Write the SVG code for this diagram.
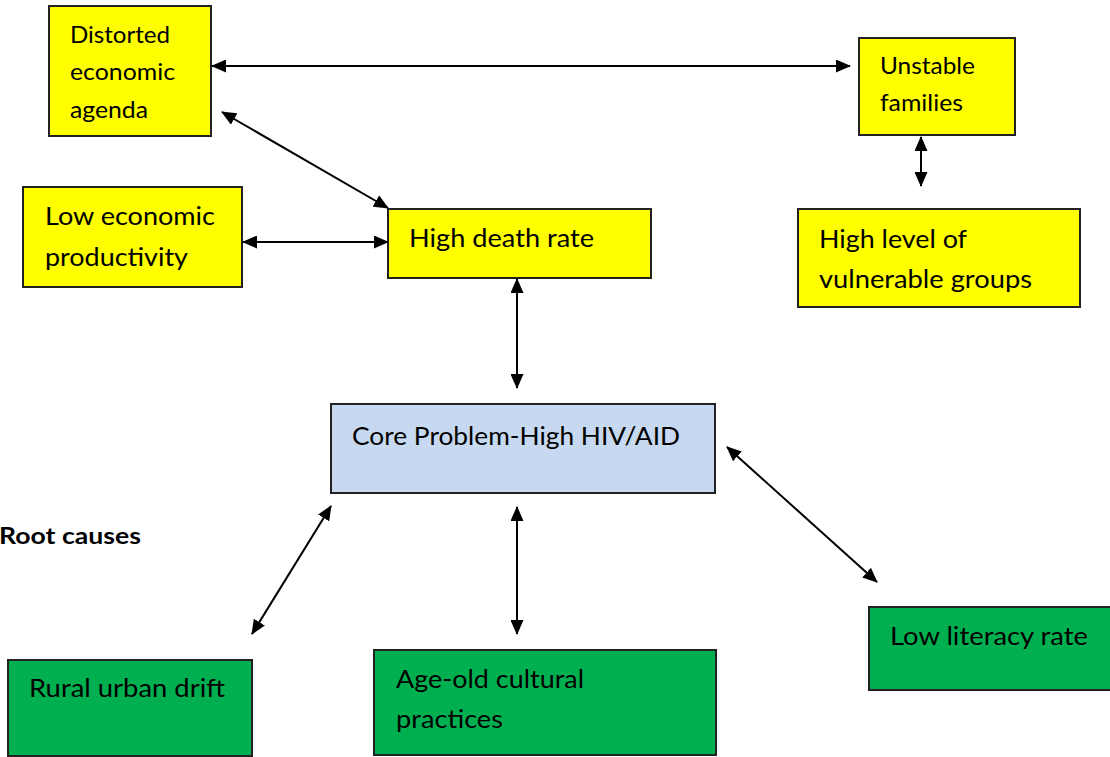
<svg xmlns="http://www.w3.org/2000/svg" width="1110" height="757" viewBox="0 0 1110 757">
<style>
.y{fill:#ffff00;stroke:#222;stroke-width:2}
.b{fill:#c6d9f0;stroke:#222;stroke-width:2}
.g{fill:#00b050;stroke:#222;stroke-width:2}
text{font-family:Lato,"Open Sans","Liberation Sans",sans-serif;fill:#000}
.s{font-size:23px}
.m{font-size:25px}
.c line{stroke:#000;stroke-width:2;marker-start:url(#ah);marker-end:url(#ah)}
</style>
<defs>
<marker id="ah" viewBox="0 0 15 13" refX="14" refY="6.5" markerWidth="15" markerHeight="13" markerUnits="userSpaceOnUse" orient="auto-start-reverse">
<path d="M0,0 L15,6.5 L0,13 Z" fill="#000"/>
</marker>
</defs>
<rect width="1110" height="757" fill="#fff"/>
<g id="distorted"><rect class="y" x="49" y="6" width="162" height="130"/><text class="s" x="70" y="43" textLength="100" lengthAdjust="spacingAndGlyphs">Distorted</text><text class="s" x="70" y="80" textLength="105" lengthAdjust="spacingAndGlyphs">economic</text><text class="s" x="70" y="118" textLength="78" lengthAdjust="spacingAndGlyphs">agenda</text></g>
<g id="lowecon"><rect class="y" x="23" y="187" width="219" height="100"/><text class="m" x="45" y="225" textLength="170" lengthAdjust="spacingAndGlyphs">Low economic</text><text class="m" x="45" y="266" textLength="143" lengthAdjust="spacingAndGlyphs">productivity</text></g>
<g id="death"><rect class="y" x="388" y="209" width="263" height="69"/><text class="m" x="409" y="247" textLength="185" lengthAdjust="spacingAndGlyphs">High death rate</text></g>
<g id="unstable"><rect class="y" x="859" y="38" width="156" height="97"/><text class="s" x="880" y="74" textLength="95" lengthAdjust="spacingAndGlyphs">Unstable</text><text class="s" x="880" y="111" textLength="83" lengthAdjust="spacingAndGlyphs">families</text></g>
<g id="vulnerable"><rect class="y" x="798" y="209" width="282" height="98"/><text class="m" x="819" y="248" textLength="148" lengthAdjust="spacingAndGlyphs">High level of</text><text class="m" x="819" y="288" textLength="213" lengthAdjust="spacingAndGlyphs">vulnerable groups</text></g>
<g id="core"><rect class="b" x="331" y="404" width="384" height="89"/><text class="m" x="352" y="445" textLength="328" lengthAdjust="spacingAndGlyphs">Core Problem-High HIV/AID</text></g>
<g id="rootlabel"><text x="-1" y="544" textLength="142" lengthAdjust="spacingAndGlyphs" style="font-size:22px;font-weight:bold">Root causes</text></g>
<g id="rural"><rect class="g" x="8" y="660" width="244" height="96"/><text class="m" x="29" y="697" textLength="196" lengthAdjust="spacingAndGlyphs">Rural urban drift</text></g>
<g id="ageold"><rect class="g" x="374" y="650" width="342" height="105"/><text class="m" x="396" y="688" textLength="188" lengthAdjust="spacingAndGlyphs">Age-old cultural</text><text class="m" x="396" y="728" textLength="107" lengthAdjust="spacingAndGlyphs">practices</text></g>
<g id="literacy"><rect class="g" x="869" y="607" width="245" height="83"/><text class="m" x="890" y="645" textLength="198" lengthAdjust="spacingAndGlyphs">Low literacy rate</text></g>
<g id="connectors" class="c">
<line x1="212" y1="66" x2="850" y2="66"/>
<line x1="222" y1="112" x2="388" y2="208"/>
<line x1="243" y1="242" x2="388" y2="242"/>
<line x1="921" y1="137" x2="921" y2="186"/>
<line x1="517" y1="279" x2="517" y2="388"/>
<line x1="331" y1="506" x2="252" y2="634"/>
<line x1="517" y1="507" x2="517" y2="634"/>
<line x1="727" y1="447" x2="877" y2="582"/>
</g>
</svg>
